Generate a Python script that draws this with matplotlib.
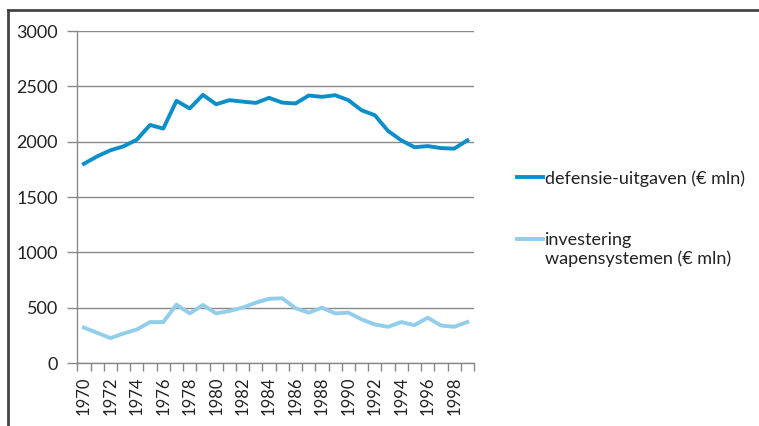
import numpy as np
import matplotlib.pyplot as plt
from matplotlib.lines import Line2D

plt.rcParams['font.family'] = ['Lato', 'DejaVu Sans']

# --- data ---
jaren = list(range(1970, 2000))
defensie = [1800, 1867, 1922, 1958, 2018, 2151, 2118, 2369, 2300, 2423,
            2338, 2375, 2362, 2350, 2396, 2353, 2345, 2417, 2405, 2420,
            2375, 2284, 2239, 2097, 2012, 1950, 1960, 1942, 1937, 2012]
investering = [320, 273, 225, 267, 303, 370, 370, 527, 448, 524,
               448, 470, 500, 545, 580, 585, 495, 455, 500, 448,
               455, 394, 348, 327, 370, 342, 409, 339, 327, 370]
labels = ['defensie-uitgaven (€ mln)', 'investering\nwapensystemen (€ mln)']

donker = '#0C8FC8'
licht = '#92CDEA'
tekst = '#222222'

fig = plt.figure(figsize=(7.59, 4.26), dpi=100)
ax = fig.add_axes([77.3 / 759, 1 - 363 / 426, (474 - 77.3) / 759, (363 - 31) / 426])

x = np.arange(len(jaren))
ax.plot(x, defensie, color=donker, lw=2.8, label=labels[0], solid_joinstyle='round')
ax.plot(x, investering, color=licht, lw=2.8, label=labels[1], solid_joinstyle='round')

ax.set_ylim(0, 3000)
ax.set_yticks(range(0, 3001, 500))
ax.set_xlim(-0.5, len(jaren) - 0.5)

# tick marks on the category borders, labels in the middle
ax.set_xticks(np.arange(-0.5, len(jaren), 1.0))
ax.set_xticklabels([])
ax.set_xticks(x[::2], minor=True)
ax.set_xticklabels([str(j) for j in jaren[::2]], minor=True, rotation=90)
ax.tick_params(axis='x', which='major', length=6, color='#888888', width=1)
ax.tick_params(axis='x', which='minor', length=0, pad=10, labelsize=12, labelcolor=tekst)
ax.tick_params(axis='y', length=7, color='#888888', width=1, labelsize=13, labelcolor=tekst, pad=7)

ax.grid(axis='y', color='#888888', lw=1)
ax.set_axisbelow(True)
for s in ['top', 'right']:
    ax.spines[s].set_visible(False)
for s in ['left', 'bottom']:
    ax.spines[s].set_color('#888888')
    ax.spines[s].set_linewidth(1)

leg = ax.legend(loc='upper left', bbox_to_anchor=(517 / 759, 1 - 170 / 426),
                bbox_transform=fig.transFigure, frameon=False, fontsize=13,
                handlelength=1.45, handletextpad=0.12, labelspacing=2.5,
                borderpad=0, borderaxespad=0, labelcolor=tekst)
# handle of the two-line entry sits next to the first line
h = leg.get_lines()[1]
h.set_ydata(np.asarray(h.get_ydata()) + 7.8)

# outer frame (only top and left visible in the crop)
fig.add_artist(Line2D([8 / 759, 1], [1 - 10 / 426] * 2, transform=fig.transFigure, color='#444444', lw=2))
fig.add_artist(Line2D([8 / 759] * 2, [0, 1 - 10 / 426], transform=fig.transFigure, color='#444444', lw=2))

fig.savefig('out.png', dpi=100)
